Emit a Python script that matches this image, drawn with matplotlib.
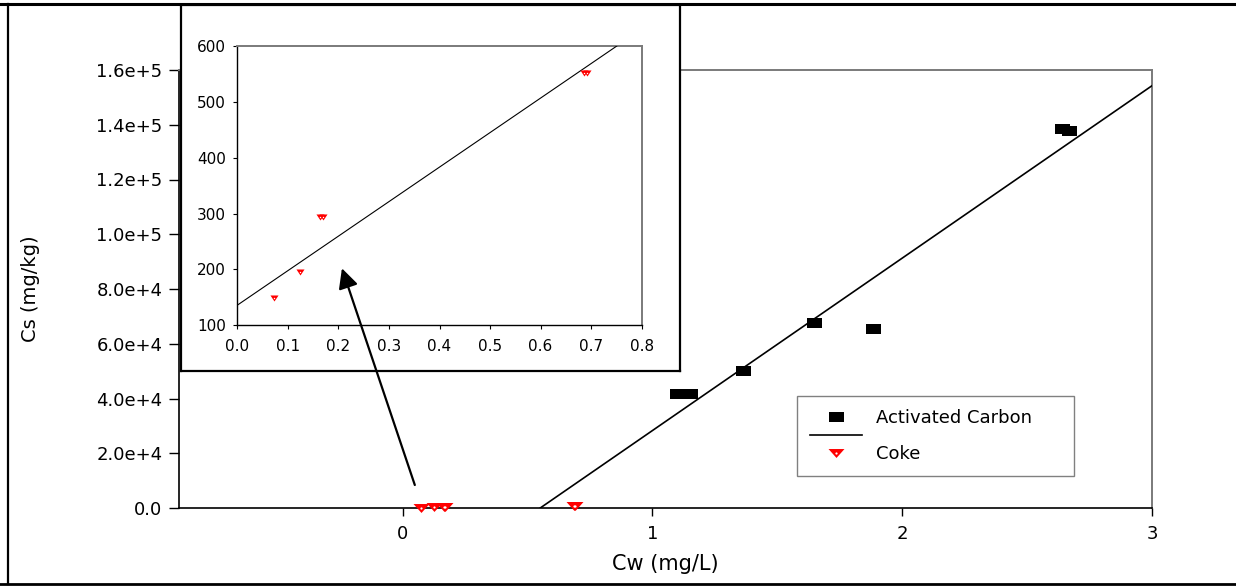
import matplotlib
matplotlib.use("Agg")
import matplotlib.pyplot as plt
from matplotlib.path import Path
from matplotlib.lines import Line2D
from matplotlib.patches import ConnectionPatch
from matplotlib.ticker import FixedLocator, FixedFormatter

# ---------------- data ----------------
ac_cw = [1.097, 1.149, 1.364, 1.648, 1.883, 2.641, 2.669]
ac_cs = [41600, 41500, 50000, 67600, 65400, 138400, 137700]
ac_fit_slope = 62990.0
ac_fit_intercept = -34710.0

coke_cw = [0.072, 0.124, 0.164, 0.170, 0.686, 0.691]
coke_cs = [148, 196, 293, 293, 552, 552]
coke_fit_slope = 618.0
coke_fit_intercept = 136.0

main_xticks = [0, 1, 2, 3]
main_xtick_labels = ["0", "1", "2", "3"]
main_yticks = [0, 2e4, 4e4, 6e4, 8e4, 1.0e5, 1.2e5, 1.4e5, 1.6e5]
main_ytick_labels = ["0.0", "2.0e+4", "4.0e+4", "6.0e+4", "8.0e+4",
                     "1.0e+5", "1.2e+5", "1.4e+5", "1.6e+5"]
inset_xticks = [0.0, 0.1, 0.2, 0.3, 0.4, 0.5, 0.6, 0.7, 0.8]
inset_xtick_labels = ["0.0", "0.1", "0.2", "0.3", "0.4", "0.5", "0.6", "0.7", "0.8"]
inset_yticks = [100, 200, 300, 400, 500, 600]
inset_ytick_labels = ["100", "200", "300", "400", "500", "600"]

series_names = ["Activated Carbon", "", "Coke"]

# ---------------- markers ----------------
C = [Path.MOVETO, Path.LINETO, Path.LINETO, Path.LINETO, Path.CLOSEPOLY]
rect_marker = Path([(-1, -0.67), (1, -0.67), (1, 0.67), (-1, 0.67), (-1, -0.67)], C)
CT = [Path.MOVETO, Path.LINETO, Path.LINETO, Path.CLOSEPOLY]
tri_marker = Path([(-1, 0.56), (1, 0.56), (0, -0.56), (-1, 0.56)], CT)
tri_small = Path([(-1, 0.75), (1, 0.75), (0, -0.75), (-1, 0.75)], CT)

W, H = 1236, 588
fig = plt.figure(figsize=(W / 100, H / 100), dpi=100)
plt.rcParams["font.family"] = ["DejaVu Sans"]

# page borders
fig.add_artist(Line2D([0, 1], [1 - 3.5 / H, 1 - 3.5 / H], transform=fig.transFigure,
                      color="black", lw=2.2))
fig.add_artist(Line2D([0, 1], [1 - 583.5 / H, 1 - 583.5 / H], transform=fig.transFigure,
                      color="black", lw=2.0))
fig.add_artist(Line2D([8.3 / W, 8.3 / W], [1 - 583.5 / H, 1 - 3.5 / H], transform=fig.transFigure,
                      color="black", lw=1.6))

# ---------------- main axes ----------------
ax = fig.add_axes([179 / W, 80 / H, 973 / W, 438 / H], zorder=1)
ax.set_xlim(-0.895, 3)
ax.set_ylim(0, 1.6e5)

sq, = ax.plot(ac_cw, ac_cs, ls="none", marker=rect_marker, ms=10.8,
              color="black", mew=0, zorder=4)
ax.axline((0, ac_fit_intercept), slope=ac_fit_slope, color="black", lw=1.2, zorder=3)
tri, = ax.plot(coke_cw, coke_cs, ls="none", marker=tri_marker, ms=11.5,
               color="red", mew=0, clip_on=False, zorder=5)
dot, = ax.plot(coke_cw, coke_cs, ls="none", marker="o", ms=1.6,
               color="white", mew=0, clip_on=False, zorder=6)

ax.xaxis.set_major_locator(FixedLocator(main_xticks))
ax.xaxis.set_major_formatter(FixedFormatter(main_xtick_labels))
ax.yaxis.set_major_locator(FixedLocator(main_yticks))
ax.yaxis.set_major_formatter(FixedFormatter(main_ytick_labels))
ax.tick_params(axis="x", direction="out", length=6, width=1, pad=6, labelsize=13)
ax.tick_params(axis="y", direction="out", length=7, width=1, pad=5, labelsize=13)
for s in ("left", "bottom"):
    ax.spines[s].set_color("black")
    ax.spines[s].set_linewidth(1.2)
for s in ("top", "right"):
    ax.spines[s].set_color("#7a7a7a")
    ax.spines[s].set_linewidth(1.4)

ax.set_xlabel("Cw (mg/L)", fontsize=15)
ax.xaxis.set_label_coords(0.5, -0.105)
ax.set_ylabel("Cs (mg/kg)", fontsize=14)
ax.yaxis.set_label_coords(-0.143, 0.5)

line_proxy = Line2D([], [], color="black", lw=1.2)
leg = ax.legend([sq, line_proxy, (tri, dot)], series_names,
                loc="upper left", bbox_to_anchor=(0.635, 0.2557, 0.285, 0.0),
                mode="expand", fontsize=13, frameon=True, fancybox=False,
                framealpha=1, edgecolor="#808080", borderpad=0.72,
                labelspacing=0.0, handlelength=2.9, handletextpad=0.75,
                borderaxespad=0)
leg.get_frame().set_linewidth(1.0)

# ---------------- inset panel ----------------
panel = fig.add_axes([181 / W, 1 - 371 / H, 499 / W, 366 / H], zorder=2)
panel.set_xticks([])
panel.set_yticks([])
panel.set_facecolor("white")
for s in panel.spines.values():
    s.set_color("black")
    s.set_linewidth(1.6)

inset = fig.add_axes([237.3 / W, 1 - 325.3 / H, 404.4 / W, 279.3 / H], zorder=3)
inset.set_xlim(0, 0.8)
inset.set_ylim(100, 600)
inset.plot(coke_cw, coke_cs, ls="none", marker=tri_small, ms=5.8,
           color="red", mew=0, zorder=5)
inset.plot(coke_cw, coke_cs, ls="none", marker="o", ms=1.0,
           color="white", mew=0, zorder=6)
inset.axline((0, coke_fit_intercept), slope=coke_fit_slope, color="black", lw=0.8, zorder=3)
inset.xaxis.set_major_locator(FixedLocator(inset_xticks))
inset.xaxis.set_major_formatter(FixedFormatter(inset_xtick_labels))
inset.yaxis.set_major_locator(FixedLocator(inset_yticks))
inset.yaxis.set_major_formatter(FixedFormatter(inset_ytick_labels))
inset.tick_params(axis="x", direction="out", length=3, width=0.8, pad=7, labelsize=11)
inset.tick_params(axis="y", direction="out", length=3, width=0.8, pad=5, labelsize=11)
for s in ("left", "bottom"):
    inset.spines[s].set_color("black")
    inset.spines[s].set_linewidth(1.0)
for s in ("top", "right"):
    inset.spines[s].set_color("#7a7a7a")
    inset.spines[s].set_linewidth(1.4)

# arrow from coke points on main chart up to the inset
con = ConnectionPatch(xyA=(0.049, 8400), coordsA=ax.transData,
                      xyB=(0.207, 202), coordsB=inset.transData,
                      arrowstyle="-|>", mutation_scale=30, lw=1.6,
                      color="black", shrinkA=0, shrinkB=0, zorder=10)
fig.add_artist(con)

fig.savefig("out.png", dpi=100)
